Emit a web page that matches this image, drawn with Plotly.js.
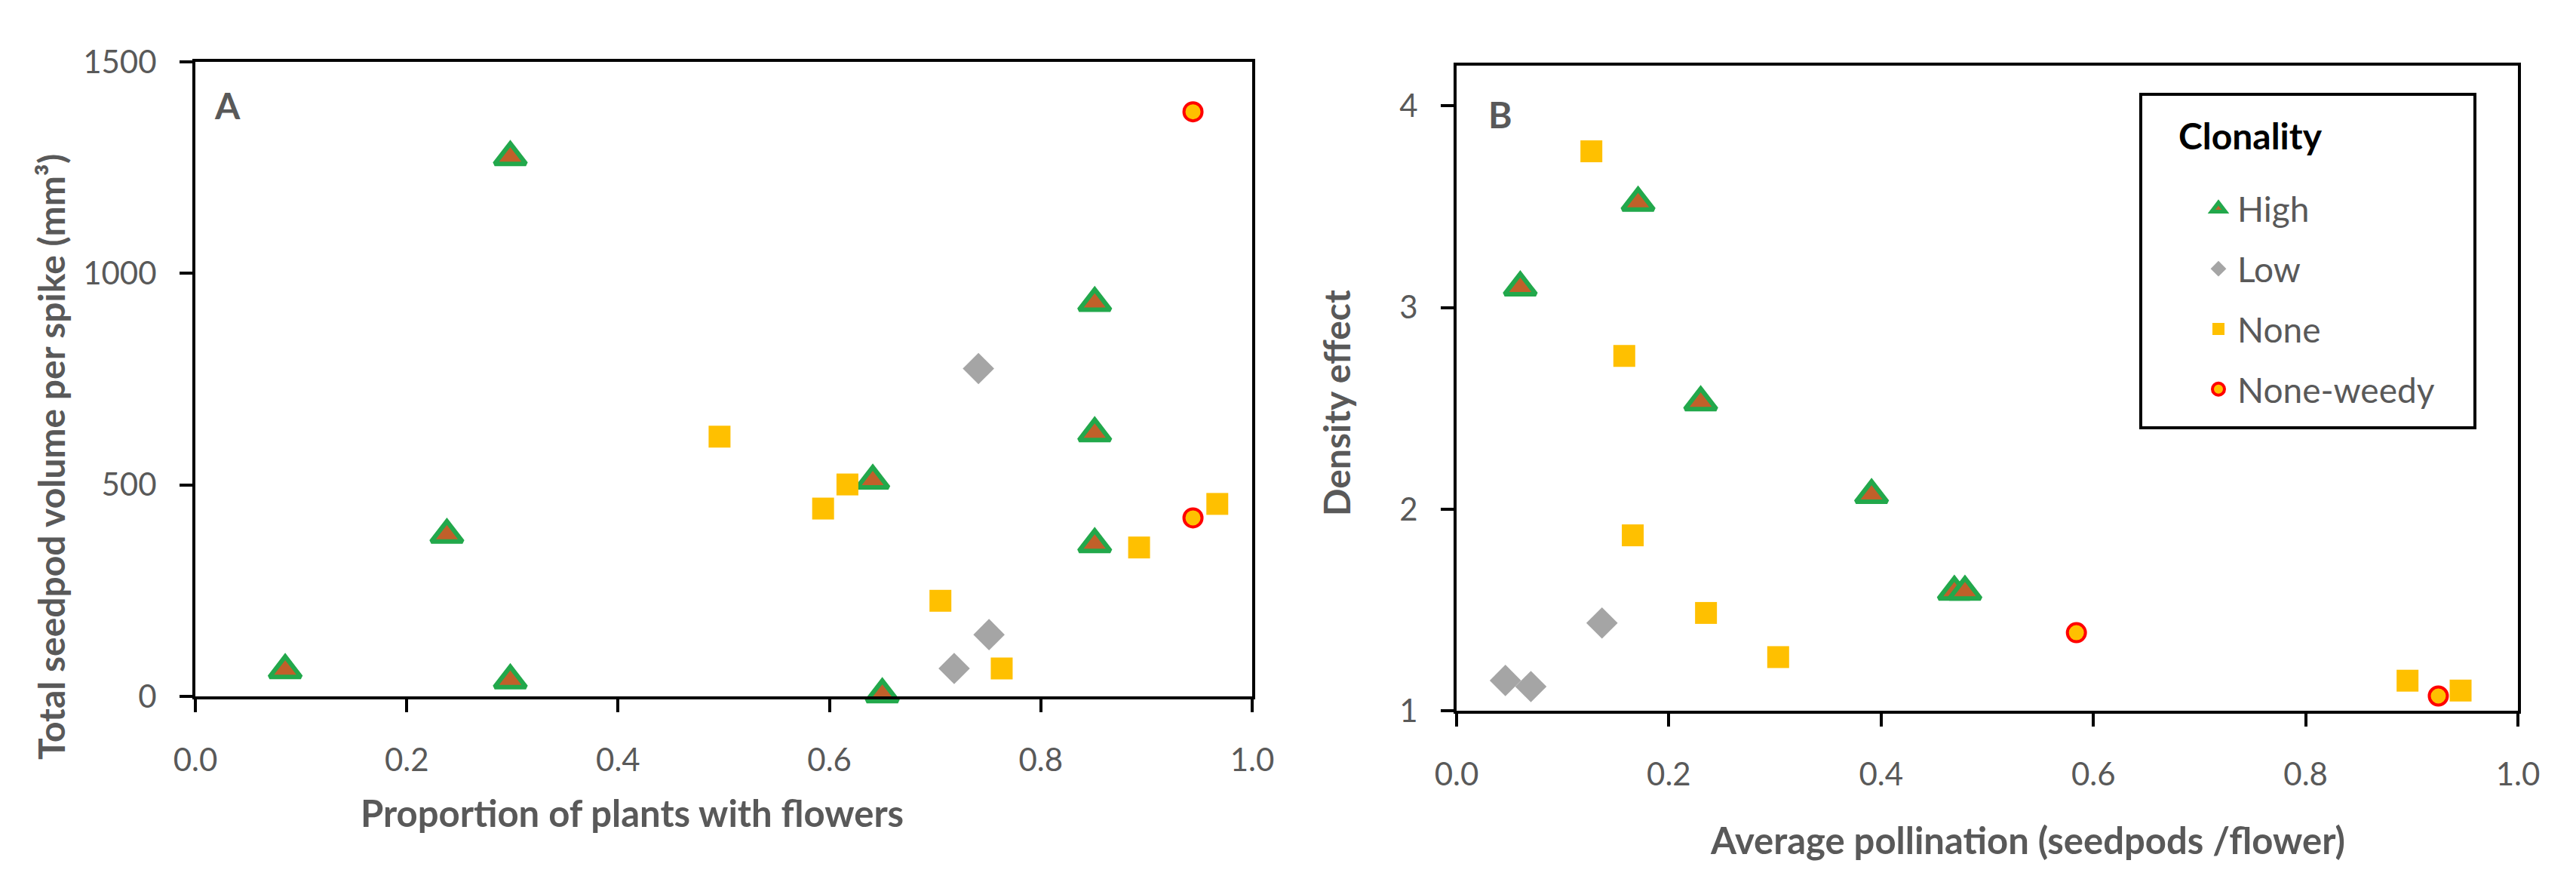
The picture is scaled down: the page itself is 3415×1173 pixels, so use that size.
<!DOCTYPE html>
<html>
<head>
<meta charset="utf-8">
<script src="https://cdn.plot.ly/plotly-3.0.1.min.js"></script>
<style>html,body{margin:0;padding:0;background:#fff;}#chart{width:3415px;height:1173px;}</style>
</head>
<body>
<div id="chart"></div>
<script>
// ---- Data ----
const categories = ["High", "Low", "None", "None-weedy"];
const legendTitle = "Clonality";
const titleAx = "Proportion of plants with flowers";
const titleAy = "Total seedpod volume per spike (mm³)";
const titleBx = "Average pollination (seedpods /flower)";
const titleBy = "Density effect";

// Panel A: Proportion of plants with flowers vs total seedpod volume per spike
const highA_x = [0.085, 0.238, 0.298, 0.298, 0.641, 0.650, 0.851, 0.851, 0.851];
const highA_y = [62, 382, 1275, 38, 510, 5, 930, 622, 360];
const lowA_x = [0.741, 0.751, 0.718];
const lowA_y = [775, 146, 66];
const noneA_x = [0.496, 0.594, 0.617, 0.705, 0.763, 0.893, 0.967];
const noneA_y = [614, 444, 501, 226, 66, 352, 455];
const weedyA_x = [0.944, 0.944];
const weedyA_y = [1382, 422];

// Panel B: Average pollination vs density effect
const highB_x = [0.060, 0.171, 0.230, 0.391, 0.469, 0.479];
const highB_y = [3.10, 3.52, 2.53, 2.07, 1.59, 1.59];
const lowB_x = [0.046, 0.070, 0.137];
const lowB_y = [1.15, 1.12, 1.435];
const noneB_x = [0.127, 0.158, 0.166, 0.235, 0.303, 0.896, 0.946];
const noneB_y = [3.775, 2.76, 1.87, 1.485, 1.266, 1.149, 1.10];
const weedyB_x = [0.584, 0.925];
const weedyB_y = [1.387, 1.073];

const xTicks = [0, 0.2, 0.4, 0.6, 0.8, 1.0];
const yTicksA = [0, 500, 1000, 1500];
const yTicksB = [1, 2, 3, 4];

// ---- Styles ----
const W = 3415, H = 1173;
const FONT = "Lato, 'Open Sans', 'DejaVu Sans', sans-serif";
const GRAY = "#595959";
const markerStyles = {
  "High": {symbol: "triangle-up", size: 36, color: "#C0602A", line: {color: "#22A84B", width: 6}},
  "Low": {symbol: "diamond", size: 32, color: "#A5A5A5", line: {color: "#A5A5A5", width: 0}},
  "None": {symbol: "square", size: 29, color: "#FFC000", line: {color: "#FFC000", width: 0}},
  "None-weedy": {symbol: "circle", size: 24, color: "#FFC000", line: {color: "#FF0000", width: 4}}
};

const seriesA = [[highA_x, highA_y], [lowA_x, lowA_y], [noneA_x, noneA_y], [weedyA_x, weedyA_y]];
const seriesB = [[highB_x, highB_y], [lowB_x, lowB_y], [noneB_x, noneB_y], [weedyB_x, weedyB_y]];

const traces = [];
categories.forEach((cat, i) => {
  traces.push({
    type: "scatter", mode: "markers", name: cat,
    x: seriesA[i][0], y: seriesA[i][1], xaxis: "x", yaxis: "y",
    marker: markerStyles[cat], showlegend: false, cliponaxis: false,
    legendgroup: cat
  });
});
categories.forEach((cat, i) => {
  traces.push({
    type: "scatter", mode: "markers", name: cat,
    x: seriesB[i][0], y: seriesB[i][1], xaxis: "x2", yaxis: "y2",
    marker: markerStyles[cat], showlegend: true, cliponaxis: false,
    legendgroup: cat
  });
});

function px(x) { return x / W; }
function py(y) { return 1 - y / H; }

const axisCommon = {
  showgrid: false, zeroline: false, showline: true, linecolor: "#000", linewidth: 4,
  mirror: true, ticks: "outside", ticklen: 17, tickwidth: 4, tickcolor: "#000",
  tickfont: {family: FONT, size: 42, color: GRAY}, fixedrange: true
};
const titleFontX = {family: FONT, size: 49, color: GRAY, weight: "bold"};
const titleFontY = {family: FONT, size: 48, color: GRAY, weight: "bold"};

// Axis titles are placed where the reference has them (manually offset from centre)
function axisTitle(text, x, y, font, angle) {
  return {text: text, xref: "paper", yref: "paper", x: px(x), y: py(y), showarrow: false,
          xanchor: "center", yanchor: "middle", textangle: angle || 0, font: font};
}

const layout = {
  width: W, height: H,
  margin: {l: 0, r: 0, t: 0, b: 0},
  paper_bgcolor: "#fff", plot_bgcolor: "#fff",
  font: {family: FONT, color: GRAY},
  showlegend: true,
  xaxis: Object.assign({}, axisCommon, {
    domain: [px(259), px(1660)], range: [0, 1], anchor: "y",
    tickvals: xTicks, tickformat: ".1f", ticklabelstandoff: 28
  }),
  yaxis: Object.assign({}, axisCommon, {
    domain: [py(923), py(82)], range: [0, 1500], anchor: "x",
    tickvals: yTicksA, ticklabelstandoff: 22
  }),
  xaxis2: Object.assign({}, axisCommon, {
    domain: [px(1931), px(3338)], range: [0, 1], anchor: "y2",
    tickvals: xTicks, tickformat: ".1f", ticklabelstandoff: 28
  }),
  yaxis2: Object.assign({}, axisCommon, {
    domain: [py(942), py(87)], range: [1, 4.2], anchor: "x2",
    tickvals: yTicksB, ticklabelstandoff: 22
  }),
  legend: {
    x: px(2916), y: py(240), xanchor: "left", yanchor: "top",
    bgcolor: "rgba(0,0,0,0)", borderwidth: 0,
    font: {family: FONT, size: 46, color: GRAY},
    tracegroupgap: 17, itemwidth: 40, traceorder: "grouped"
  },
  shapes: [{
    type: "rect", xref: "paper", yref: "paper",
    x0: px(2838), x1: px(3281), y0: py(567), y1: py(125),
    line: {color: "#000", width: 4}, fillcolor: "rgba(0,0,0,0)"
  }],
  annotations: [
    axisTitle(titleAx, 838, 1077, titleFontX),
    axisTitle(titleAy, 67, 606, titleFontY, -90),
    axisTitle(titleBx, 2688, 1113, titleFontX),
    axisTitle(titleBy, 1771, 534, titleFontY, -90),
    {text: legendTitle, xref: "paper", yref: "paper", x: px(2886), y: py(180), showarrow: false,
     xanchor: "left", yanchor: "middle", font: {family: FONT, size: 48, color: "#000", weight: "bold"}},
    {text: "A", xref: "paper", yref: "paper", x: px(301), y: py(140), showarrow: false,
     xanchor: "center", yanchor: "middle", font: {family: FONT, size: 48, color: GRAY, weight: "bold"}},
    {text: "B", xref: "paper", yref: "paper", x: px(1989), y: py(152), showarrow: false,
     xanchor: "center", yanchor: "middle", font: {family: FONT, size: 48, color: GRAY, weight: "bold"}}
  ]
};

Plotly.newPlot("chart", traces, layout, {displayModeBar: false, staticPlot: true});
</script>
</body>
</html>
